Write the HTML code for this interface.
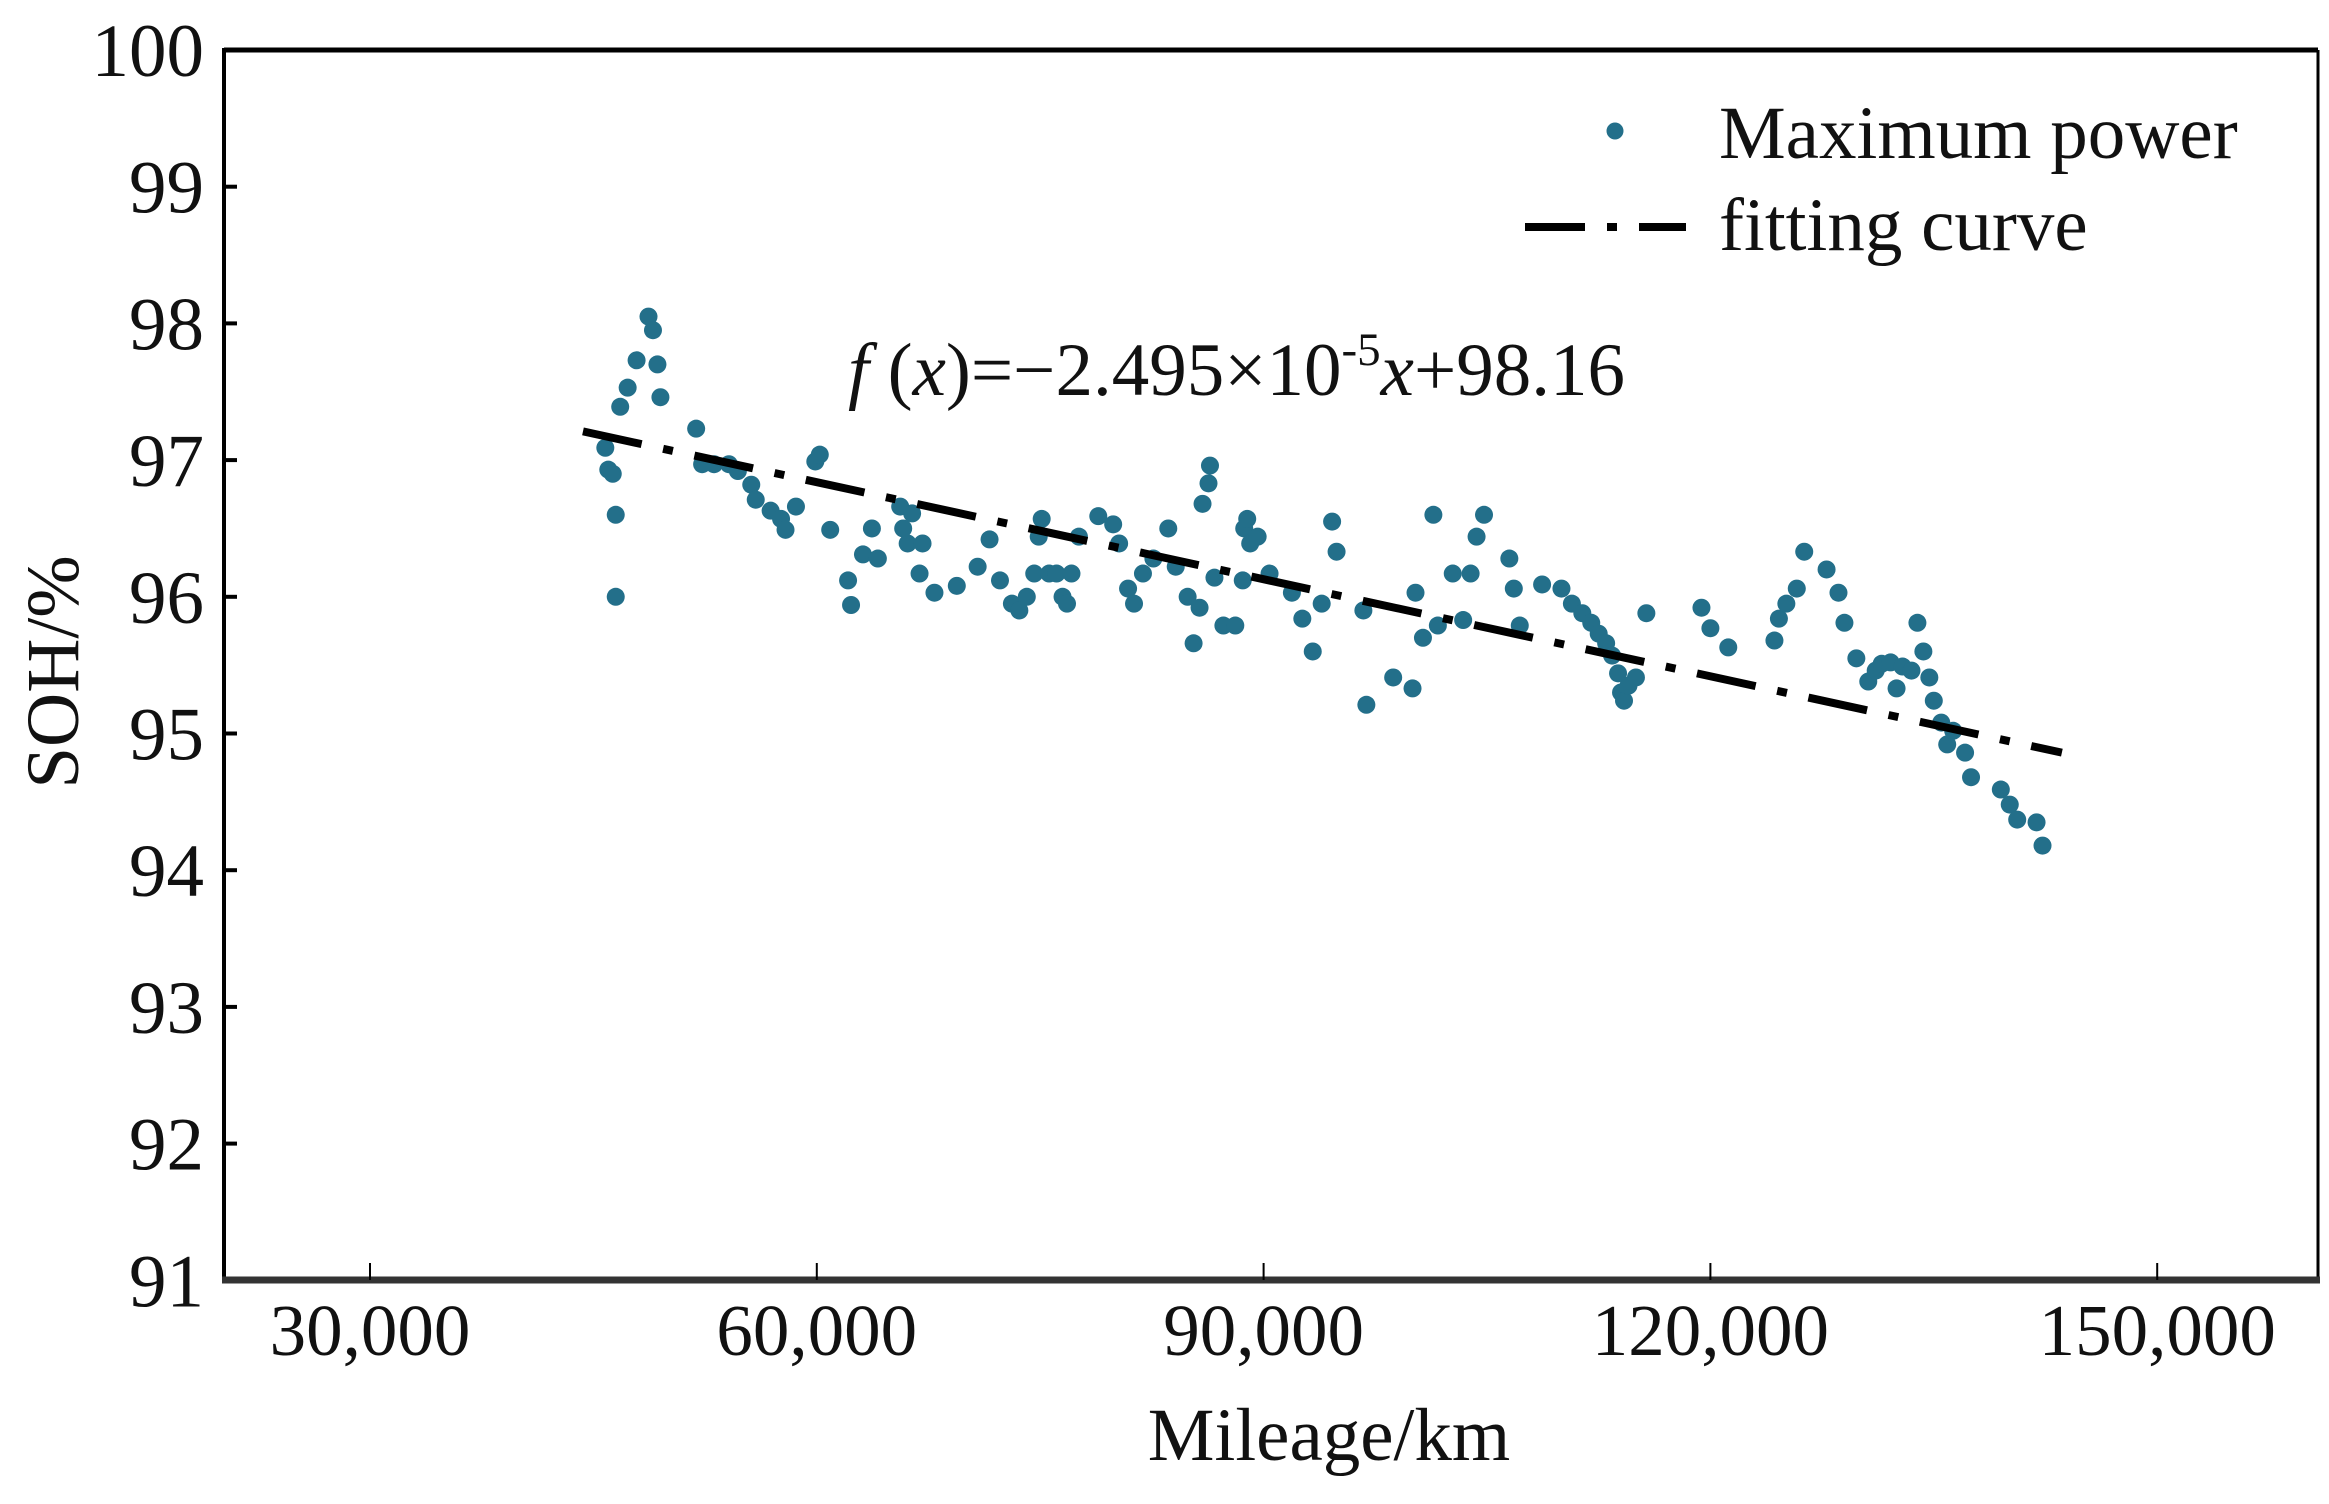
<!DOCTYPE html>
<html><head><meta charset="utf-8"><style>
html,body{margin:0;padding:0;background:#fff;}
svg text{font-family:"Liberation Serif",serif;fill:#111;}
</style></head><body>
<svg id="chart" width="2329" height="1499" viewBox="0 0 2329 1499" xmlns="http://www.w3.org/2000/svg">
<rect x="0" y="0" width="2329" height="1499" fill="#fff"/>
<g id="marks"></g>
<g id="axes"></g>
<text x="848" y="395" font-size="75"><tspan font-style="italic">f</tspan> (<tspan font-style="italic">x</tspan>)=−2.495×10<tspan dy="-30" font-size="47">-5</tspan><tspan dy="30" font-style="italic">x</tspan>+98.16</text>
<g>
<circle cx="1615" cy="131" r="8.5" fill="#236f8a"/>
<text x="1719" y="158" font-size="75">Maximum power</text>
<line x1="1525" y1="227" x2="1686" y2="227" stroke="#000" stroke-width="8" stroke-dasharray="60,22,10,22"/>
<text x="1719" y="250" font-size="75">fitting curve</text>
</g>
<text x="1329" y="1460" font-size="75" text-anchor="middle">Mileage/km</text>
<text transform="translate(78,672) rotate(-90)" font-size="75" text-anchor="middle">SOH/%</text>
</svg>
<script>
const mileage = [45.8,46.0,46.3,46.5,46.5,46.8,47.3,47.9,48.7,49.0,49.3,49.5,51.9,52.3,53.1,54.1,54.7,55.6,55.9,56.9,57.6,57.9,58.6,59.9,60.2,60.9,62.1,62.3,63.1,63.7,64.1,65.6,65.8,66.1,66.4,66.9,67.1,67.9,69.4,70.8,71.6,72.3,73.1,73.6,74.1,74.6,74.9,75.1,75.6,76.1,76.5,76.8,77.1,77.6,78.9,79.9,80.3,80.9,81.3,81.9,82.6,83.6,84.1,84.9,85.3,85.7,85.9,86.3,86.4,86.7,87.3,88.1,88.6,88.7,88.9,89.1,89.6,90.4,91.9,92.6,93.3,93.9,94.6,94.9,96.7,96.9,98.7,100.0,100.2,100.7,101.4,101.7,102.7,103.4,103.9,104.3,104.8,106.5,106.8,107.2,108.7,110.0,110.7,111.4,112.0,112.5,113.0,113.4,113.8,114.0,114.2,114.5,115.0,115.7,119.4,120.0,121.2,124.3,124.6,125.1,125.8,126.3,127.8,128.6,129.0,129.8,130.6,131.1,131.5,132.1,132.5,132.9,133.5,133.9,134.3,134.7,135.0,135.5,135.9,136.3,137.1,137.5,139.5,140.1,140.6,141.9,142.3];
const soh = [97.09,96.93,96.9,96.6,96.0,97.39,97.53,97.73,98.05,97.95,97.7,97.46,97.23,96.97,96.97,96.97,96.92,96.82,96.71,96.63,96.57,96.49,96.66,96.99,97.04,96.49,96.12,95.94,96.31,96.5,96.28,96.66,96.5,96.39,96.61,96.17,96.39,96.03,96.08,96.22,96.42,96.12,95.95,95.9,96.0,96.17,96.44,96.57,96.17,96.17,96.0,95.95,96.17,96.44,96.59,96.53,96.39,96.06,95.95,96.17,96.28,96.5,96.22,96.0,95.66,95.92,96.68,96.83,96.96,96.14,95.79,95.79,96.12,96.5,96.57,96.39,96.44,96.17,96.03,95.84,95.6,95.95,96.55,96.33,95.9,95.21,95.41,95.33,96.03,95.7,96.6,95.79,96.17,95.83,96.17,96.44,96.6,96.28,96.06,95.79,96.09,96.06,95.95,95.88,95.81,95.73,95.66,95.57,95.44,95.3,95.24,95.35,95.41,95.88,95.92,95.77,95.63,95.68,95.84,95.95,96.06,96.33,96.2,96.03,95.81,95.55,95.38,95.46,95.51,95.52,95.33,95.49,95.46,95.81,95.6,95.41,95.24,95.08,94.92,95.02,94.86,94.68,94.59,94.48,94.37,94.35,94.18];
const fitX = [44.3,143.6];
const fitY = [97.21,94.86];
const xTicks = [30,60,90,120,150];
const xTickLabels = ["30,000","60,000","90,000","120,000","150,000"];
const yTicks = [91,92,93,94,95,96,97,98,99,100];
const yTickLabels = ["91","92","93","94","95","96","97","98","99","100"];

const NS='http://www.w3.org/2000/svg';
function xs(v){return 370+(v-30)/30*446.8;}
function ys(v){return 50+(100-v)*136.7;}
function mk(tag,attrs,parent){const e=document.createElementNS(NS,tag);for(const k in attrs)e.setAttribute(k,attrs[k]);parent.appendChild(e);return e;}
const marks=document.getElementById('marks');
const axes=document.getElementById('axes');
for(let i=0;i<mileage.length;i++){
  const c=mk('circle',{cx:xs(mileage[i]),cy:ys(soh[i]),r:9,fill:'#236f8a'},marks);
  
  
}
const fl=mk('line',{x1:xs(fitX[0]),y1:ys(fitY[0]),x2:xs(fitX[1]),y2:ys(fitY[1]),stroke:'#000','stroke-width':8,'stroke-dasharray':'60,22,10,22'},marks);


const L=224,R=2318,T=50,B=1280;
const f1=mk('line',{x1:L,y1:T,x2:R,y2:T,stroke:'#000','stroke-width':5},axes);


const f2=mk('line',{x1:R,y1:T,x2:R,y2:B,stroke:'#000','stroke-width':3},axes);


const f3=mk('line',{x1:L,y1:T-2,x2:L,y2:B+3,stroke:'#000','stroke-width':4},axes);


const f4=mk('line',{x1:L-2,y1:B,x2:R+2,y2:B,stroke:'#333','stroke-width':7},axes);


for(let i=0;i<xTicks.length;i++){
  const x=xs(xTicks[i]);
  const t=mk('line',{x1:x,y1:B,x2:x,y2:B-17,stroke:'#000','stroke-width':2},axes);
  
  
  const l=mk('text',{x:x,y:1355,'font-size':73,'text-anchor':'middle'},axes);
  l.textContent=xTickLabels[i];
  
  
}
for(let i=0;i<yTicks.length;i++){
  const y=ys(yTicks[i]);
  if(yTicks[i]>91&&yTicks[i]<100){
    const t=mk('line',{x1:L,y1:y,x2:L+13,y2:y,stroke:'#000','stroke-width':4},axes);
    
    
  }
  const l=mk('text',{x:204,y:y+26,'font-size':75,'text-anchor':'end'},axes);
  l.textContent=yTickLabels[i];
  
  
}
</script>
</body></html>
